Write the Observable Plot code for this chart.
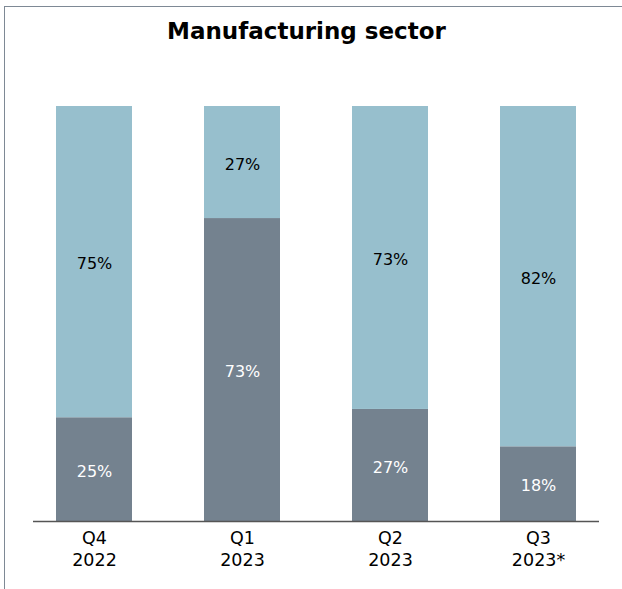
<!DOCTYPE html>
<html>
<head>
<meta charset="utf-8">
<script src="https://cdn.jsdelivr.net/npm/d3@7"></script>
<script src="https://cdn.jsdelivr.net/npm/@observablehq/plot@0.6"></script>
<style>
  html, body { margin: 0; padding: 0; background: #fff; }
  #wrap { position: relative; width: 622px; height: 589px; overflow: hidden; font-family: "DejaVu Sans", sans-serif; }
  #frameTop { position: absolute; left: 4px; top: 6px; width: 618px; height: 0; border-top: 1.6px solid #7e8995; }
  #frameLeft { position: absolute; left: 4px; top: 6px; width: 0; height: 583px; border-left: 1.6px solid #7e8995; }
  #title { position: absolute; left: 0; top: 18px; width: 613px; text-align: center; font-weight: bold; font-size: 23px; color: #000; }
  #chart { position: absolute; left: 0; top: 0; }
</style>
</head>
<body>
<div id="wrap">
  <div id="frameTop"></div>
  <div id="frameLeft"></div>
  <div id="title">Manufacturing sector</div>
  <div id="chart"></div>
</div>
<script>
const categories = ["Q4 2022", "Q1 2023", "Q2 2023", "Q3 2023*"];
const tickLabels = ["Q4\n2022", "Q1\n2023", "Q2\n2023", "Q3\n2023*"];
const bottomValues = [25, 73, 27, 18];
const topValues = [75, 27, 73, 82];
const seriesNames = ["bottom", "top"];
const seriesColors = ["#74828f", "#97bfcd"];
const labelColors = ["#ffffff", "#000000"];

const data = [];
categories.forEach((c, i) => {
  data.push({q: c, series: "bottom", value: bottomValues[i]});
  data.push({q: c, series: "top", value: topValues[i]});
});

const chart = Plot.plot({
  width: 622,
  height: 589,
  marginTop: 106,
  marginBottom: 68,
  marginLeft: 33,
  marginRight: 23,
  x: {domain: categories, range: [55.5, 576.5], paddingInner: 0.4875, paddingOuter: 0, label: null},
  y: {domain: [0, 100], axis: null},
  color: {domain: seriesNames, range: seriesColors},
  style: {fontFamily: "DejaVu Sans, sans-serif", background: "transparent"},
  marks: [
    Plot.barY(data, {x: "q", y: "value", fill: "series", order: seriesNames}),
    Plot.text(data, Plot.stackY({
      x: "q", y: "value", order: seriesNames,
      text: d => d.value + "%",
      fill: d => labelColors[seriesNames.indexOf(d.series)],
      fontSize: 16, dy: 2
    })),
    Plot.ruleY([0], {stroke: "#555", strokeWidth: 1.6}),
    Plot.axisX({
      tickSize: 0, tickPadding: 6, fontSize: 17.5, lineHeight: 1.3,
      fill: "#000",
      tickFormat: d => tickLabels[categories.indexOf(d)],
      label: null
    })
  ]
});
chart.style.background = "transparent";
document.getElementById("chart").appendChild(chart);
</script>
</body>
</html>
